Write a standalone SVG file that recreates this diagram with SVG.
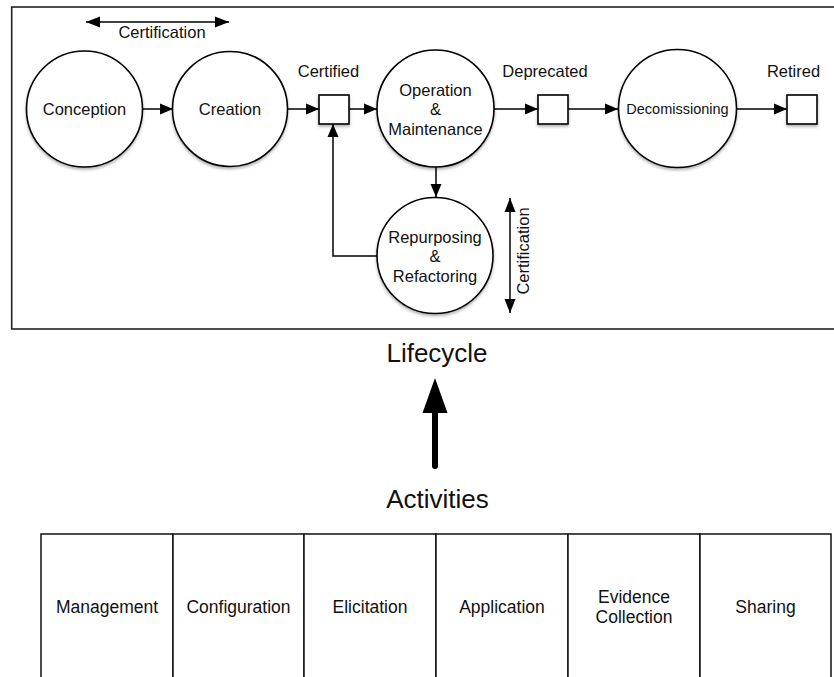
<svg xmlns="http://www.w3.org/2000/svg" width="834" height="677" viewBox="0 0 834 677">
  <style>
    text { font-family: "Liberation Sans", Arial, Helvetica, sans-serif; fill: #111; text-anchor: middle; }
    .node { font-size: 16.5px; }
    .small { font-size: 14.5px; }
    .label { font-size: 16.5px; }
    .big { font-size: 26px; }
    .act { font-size: 17.5px; }
    .state { fill: #fff; stroke: #000; stroke-width: 1.6; }
    .link { fill: none; stroke: #000; stroke-width: 1.5; }
    .frame { fill: none; stroke: #222; stroke-width: 1.6; }
    .cell { fill: #fff; stroke: #111; stroke-width: 1.5; }
  </style>
  <defs>
    <filter id="shadow" x="-20%" y="-20%" width="140%" height="150%">
      <feDropShadow dx="0" dy="2" stdDeviation="1.5" flood-color="#000" flood-opacity="0.3"/>
    </filter>
    <marker id="head" markerUnits="userSpaceOnUse" markerWidth="14" markerHeight="12" refX="13" refY="6" orient="auto">
      <path d="M0,0.5 L13,6 L0,11.5 Z" fill="#000"/>
    </marker>
    <marker id="headStart" markerUnits="userSpaceOnUse" markerWidth="16" markerHeight="12" refX="1" refY="6" orient="auto">
      <path d="M15,0.5 L1,6 L15,11.5 Z" fill="#000"/>
    </marker>
    <marker id="headEnd" markerUnits="userSpaceOnUse" markerWidth="16" markerHeight="12" refX="15" refY="6" orient="auto">
      <path d="M1,0.5 L15,6 L1,11.5 Z" fill="#000"/>
    </marker>
  </defs>

  <rect width="834" height="677" fill="#fff"/>

  <!-- lifecycle frame -->
  <rect class="frame" x="11.7" y="7" width="830" height="322"/>

  <!-- connectors -->
  <g id="connectors">
    <line class="link" x1="143" y1="109" x2="173" y2="109" marker-end="url(#head)"/>
    <line class="link" x1="288" y1="109" x2="319" y2="109" marker-end="url(#head)"/>
    <line class="link" x1="349" y1="109" x2="377" y2="109" marker-end="url(#head)"/>
    <line class="link" x1="494" y1="109" x2="538" y2="109" marker-end="url(#head)"/>
    <line class="link" x1="568" y1="109" x2="618" y2="109" marker-end="url(#head)"/>
    <line class="link" x1="737" y1="109" x2="787" y2="109" marker-end="url(#head)"/>
    <line class="link" x1="436" y1="167" x2="436" y2="197" marker-end="url(#head)"/>
    <polyline class="link" points="377,256 333,256 333,124" marker-end="url(#head)"/>
    <!-- certification spans -->
    <line class="link" x1="86" y1="22" x2="229" y2="22" marker-start="url(#headStart)" marker-end="url(#headEnd)"/>
    <line class="link" x1="510" y1="198" x2="510" y2="313" marker-start="url(#headStart)" marker-end="url(#headEnd)"/>
    <!-- activities feed the lifecycle -->
    <line x1="435" y1="466" x2="435" y2="408" stroke="#000" stroke-width="6" stroke-linecap="round"/>
    <path d="M435,378 L422.5,413 L447.5,413 Z" fill="#000"/>
  </g>

  <text class="label" x="162" y="38">Certification</text>
  <text class="label" transform="translate(529,251) rotate(-90)">Certification</text>

  <!-- lifecycle phases -->
  <g id="conception">
    <circle class="state" cx="84.5" cy="109" r="58" filter="url(#shadow)"/>
    <text class="node" x="84.5" y="115">Conception</text>
  </g>
  <g id="creation">
    <circle class="state" cx="230" cy="109" r="57.5" filter="url(#shadow)"/>
    <text class="node" x="230" y="115">Creation</text>
  </g>
  <g id="certified">
    <rect class="state" x="319" y="95" width="30" height="29" filter="url(#shadow)"/>
    <text class="label" x="328.5" y="77">Certified</text>
  </g>
  <g id="operation">
    <circle class="state" cx="435.5" cy="108.5" r="58.5" filter="url(#shadow)"/>
    <text class="node" x="435.5" y="95.5">Operation</text>
    <text class="node" x="435.5" y="115">&amp;</text>
    <text class="node" x="435.5" y="134.5">Maintenance</text>
  </g>
  <g id="deprecated">
    <rect class="state" x="538" y="95" width="30" height="29" filter="url(#shadow)"/>
    <text class="label" x="545" y="77">Deprecated</text>
  </g>
  <g id="decomissioning">
    <circle class="state" cx="677.5" cy="108.5" r="59" filter="url(#shadow)"/>
    <text class="small" x="677.5" y="114">Decomissioning</text>
  </g>
  <g id="retired">
    <rect class="state" x="787" y="95" width="30" height="29" filter="url(#shadow)"/>
    <text class="label" x="793.5" y="77">Retired</text>
  </g>
  <g id="repurposing">
    <circle class="state" cx="435" cy="255.5" r="58" filter="url(#shadow)"/>
    <text class="node" x="435" y="243">Repurposing</text>
    <text class="node" x="435" y="262">&amp;</text>
    <text class="node" x="435" y="282">Refactoring</text>
  </g>

  <text class="big" x="437" y="362">Lifecycle</text>
  <text class="big" x="437.5" y="508">Activities</text>

  <!-- activity columns -->
  <g id="management">
    <rect class="cell" x="41" y="534" width="132" height="150"/>
    <text class="act" x="107" y="613">Management</text>
  </g>
  <g id="configuration">
    <rect class="cell" x="173" y="534" width="131" height="150"/>
    <text class="act" x="238.5" y="613">Configuration</text>
  </g>
  <g id="elicitation">
    <rect class="cell" x="304" y="534" width="132" height="150"/>
    <text class="act" x="370" y="613">Elicitation</text>
  </g>
  <g id="application">
    <rect class="cell" x="436" y="534" width="132" height="150"/>
    <text class="act" x="502" y="613">Application</text>
  </g>
  <g id="evidence-collection">
    <rect class="cell" x="568" y="534" width="132" height="150"/>
    <text class="act" x="634" y="603">Evidence</text>
    <text class="act" x="634" y="623">Collection</text>
  </g>
  <g id="sharing">
    <rect class="cell" x="700" y="534" width="131" height="150"/>
    <text class="act" x="765.5" y="613">Sharing</text>
  </g>
</svg>
